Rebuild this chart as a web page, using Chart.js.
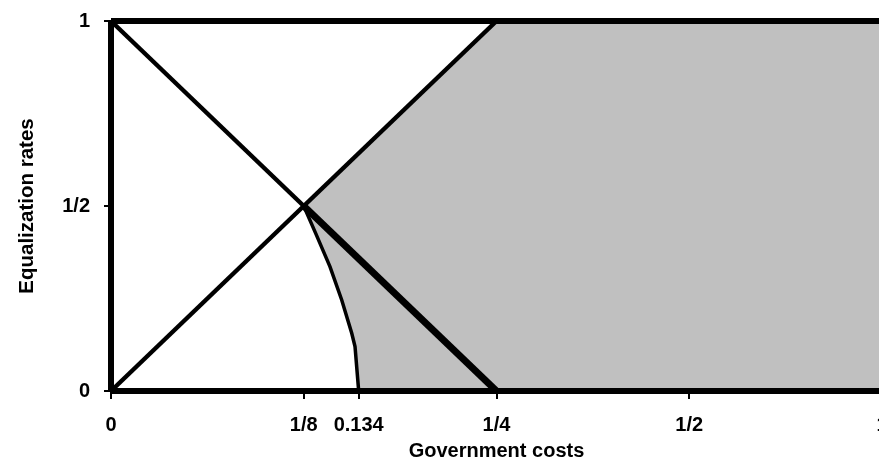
<!DOCTYPE html>
<html>
<head>
<title>Government costs vs equalization rates</title>
<meta charset="UTF-8">
<script src="https://cdn.jsdelivr.net/npm/chart.js"></script>
<style>
body { margin: 0; overflow: hidden; background: #fff; }
#wrap { width: 900px; height: 470px; }
</style>
</head>
<body>
<div id="wrap"><canvas id="costChart"></canvas></div>
<script>
// x axis is drawn in "slot" units: 0, 1/8, 1/4, 1/2, 1 sit at equal steps
const xTickPos = [0, 1, 1.285, 2, 3, 4];
const xTickText = ["0", "1/8", "0.134", "1/4", "1/2", "1"];
const yTickPos = [0, 0.5, 1];
const yTickText = ["0", "1/2", "1"];

// frame
const topX = [0, 4], topY = [1, 1];
const bottomX = [0, 4], bottomY = [0, 0];
const leftX = [0, 0], leftY = [0, 1];

// diagonals
const fallUpperX = [0, 1], fallUpperY = [1, 0.5];
const fallLowerX = [1, 2], fallLowerY = [0.5, 0];
const riseX = [0, 2], riseY = [0, 1];

// curved boundary from (1/8, 1/2) to (0.134, 0)
const curveX = [1, 1.062, 1.136, 1.197, 1.249, 1.266, 1.285];
const curveY = [0.5, 0.426, 0.336, 0.246, 0.156, 0.12, 0];

function pts(xs, ys) {
  return xs.map((x, i) => ({ x: x, y: ys[i] }));
}

// shaded region: along the rising diagonal, down the curve, then out to the right edge
const regionPts = [{ x: riseX[1], y: riseY[1] }]
  .concat(pts(curveX, curveY))
  .concat([{ x: bottomX[1], y: bottomY[1] }, { x: topX[1], y: topY[1] }]);

function line(data, width) {
  return {
    data: data,
    showLine: true,
    borderColor: "#000",
    borderWidth: width,
    pointRadius: 0,
    fill: false,
    clip: false,
    order: 1
  };
}

const tickFont = { family: "Liberation Sans, Arial, sans-serif", size: 20, weight: "bold" };

new Chart(document.getElementById("costChart"), {
  type: "scatter",
  data: {
    datasets: [
      line(pts(topX, topY), 6),
      line(pts(bottomX, bottomY), 6),
      line(pts(leftX, leftY), 6),
      line(pts(fallUpperX, fallUpperY), 4.5),
      line(pts(fallLowerX, fallLowerY), 7),
      line(pts(riseX, riseY), 4.5),
      line(pts(curveX, curveY), 3.5),
      {
        data: regionPts,
        showLine: true,
        borderWidth: 0,
        backgroundColor: "#c0c0c0",
        pointRadius: 0,
        fill: "shape",
        order: 10
      }
    ]
  },
  options: {
    responsive: true,
    maintainAspectRatio: false,
    animation: false,
    layout: { padding: { top: 21, right: 18, bottom: 0, left: 0 } },
    plugins: { legend: { display: false }, tooltip: { enabled: false } },
    scales: {
      x: {
        type: "linear",
        min: 0,
        max: 4,
        afterFit: function (s) {
          s.height = 79;
          s.paddingLeft = 0;
          s.paddingRight = 0;
        },
        afterBuildTicks: function (s) { s.ticks = xTickPos.map(v => ({ value: v })); },
        ticks: {
          color: "#000",
          font: tickFont,
          padding: 14,
          maxRotation: 0,
          autoSkip: false,
          callback: function (v) { return xTickText[xTickPos.indexOf(v)]; }
        },
        grid: { drawOnChartArea: false, drawTicks: true, tickLength: 8, color: "#000", lineWidth: 2 },
        border: { display: false },
        title: {
          display: true,
          text: "Government costs",
          color: "#000",
          font: { family: "Liberation Sans, Arial, sans-serif", size: 20, weight: "bold" },
          padding: { top: 0, bottom: 7 }
        }
      },
      y: {
        type: "linear",
        min: 0,
        max: 1,
        afterFit: function (s) {
          s.width = 111;
          s.paddingTop = 0;
          s.paddingBottom = 0;
        },
        afterBuildTicks: function (s) { s.ticks = yTickPos.map(v => ({ value: v })); },
        ticks: {
          color: "#000",
          font: tickFont,
          padding: 14,
          callback: function (v) { return yTickText[yTickPos.indexOf(v)]; }
        },
        grid: { drawOnChartArea: false, drawTicks: true, tickLength: 7, color: "#000", lineWidth: 2 },
        border: { display: false },
        title: {
          display: true,
          text: "Equalization rates",
          color: "#000",
          font: { family: "Liberation Sans, Arial, sans-serif", size: 20.5, weight: "bold" },
          padding: { top: 15, bottom: 0 }
        }
      }
    }
  }
});
</script>
</body>
</html>
